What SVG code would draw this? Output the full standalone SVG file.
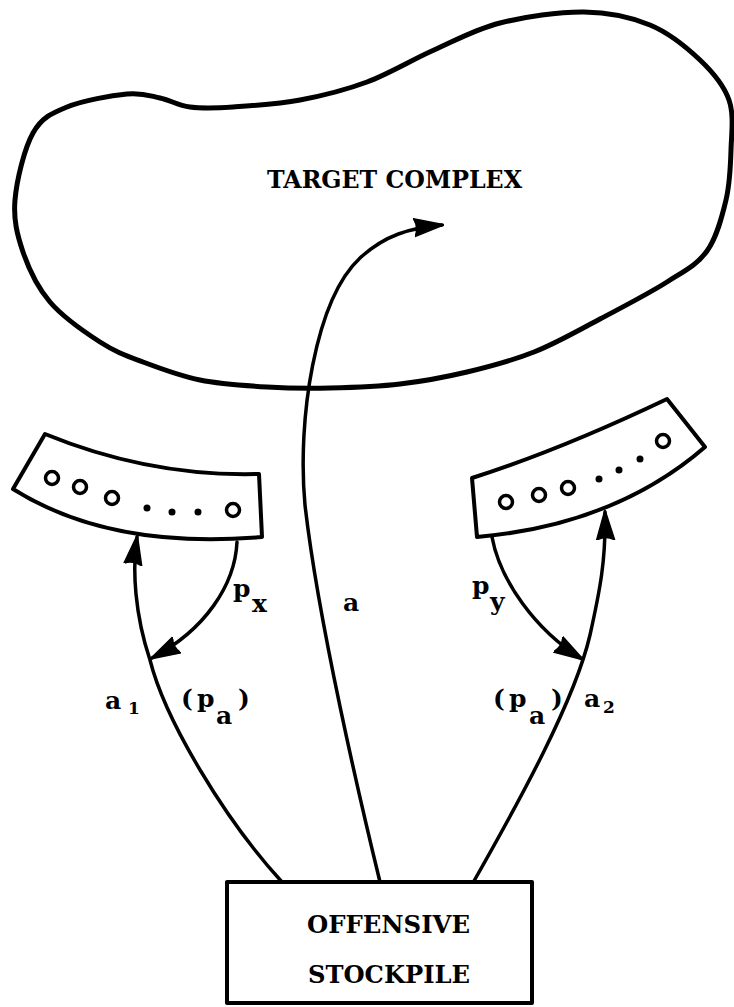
<svg xmlns="http://www.w3.org/2000/svg" width="734" height="1007" viewBox="0 0 734 1007">
<style>
  .outline { fill: none; stroke: #000; stroke-width: 4; stroke-linejoin: round; }
  .blob { fill: none; stroke: #000; stroke-width: 5; }
  .conn { fill: none; stroke: #000; stroke-width: 3.5; stroke-linecap: round; marker-end: url(#ah); }
  .ring { fill: none; stroke: #000; stroke-width: 3.5; }
  .dot { fill: #000; }
  .t { font-family: "DejaVu Serif", "Liberation Serif", serif; font-weight: bold; fill: #000; }
  .cap { font-size: 24px; }
  .lab { font-size: 25px; }
  .num { font-size: 17px; }
</style>
<defs>
  <marker id="ah" markerUnits="userSpaceOnUse" viewBox="0 0 30 22" markerWidth="30" markerHeight="22" refX="28" refY="11" orient="auto">
    <path d="M0,2 L30,11 L0,20 Q5,11 0,2 Z" fill="#000" stroke="#000" stroke-width="1.5" stroke-linejoin="round"/>
  </marker>
</defs>
<rect width="734" height="1007" fill="#fff"/>

<g id="target-complex">
  <path class="blob" d="M15,200 C16.7,180.2 24.3,148.5 33,133 C41.7,117.5 51.3,113.5 67,107 C82.7,100.5 111.5,95.5 127,94 C142.5,92.5 149.5,95.8 160,98 C170.5,100.2 177.8,105.5 190,107 C202.2,108.5 214.7,108.2 233,107 C251.3,105.8 277.7,104.2 300,100 C322.3,95.8 344.7,90.3 367,82 C389.3,73.7 411.8,59.8 434,50 C456.2,40.2 475,29.3 500,23 C525,16.7 559,11.7 584,12 C609,12.3 630.7,17 650,25 C669.3,33 686.8,47.5 700,60 C713.2,72.5 723.8,85 729,100 C734.2,115 731.5,133.3 731,150 C730.5,166.7 730,183.2 726,200 C722,216.8 716.8,237.3 707,251 C697.2,264.7 684.8,270.7 667,282 C649.2,293.3 622.2,307.3 600,319 C577.8,330.7 556.2,343.2 534,352 C511.8,360.8 489.3,366.7 467,372 C444.7,377.3 422.8,381.3 400,384 C377.2,386.7 352.2,387.5 330,388 C307.8,388.5 288.7,388.3 267,387 C245.3,385.7 220.7,384.2 200,380 C179.3,375.8 159.7,368.3 143,362 C126.3,355.7 115.5,352 100,342 C84.5,332 62.8,317 50,302 C37.2,287 28.8,269 23,252 C17.2,235 13.3,219.8 15,200 Z"/>
  <text class="t cap" x="267" y="188" textLength="255" lengthAdjust="spacingAndGlyphs">TARGET COMPLEX</text>
</g>

<g id="left-battery">
  <path class="outline" d="M45,434 Q150,477 259,474 L262,537 Q110,550 13,489 Z"/>
  <circle class="ring" cx="52" cy="478" r="6.5"/>
  <circle class="ring" cx="80" cy="487" r="6.5"/>
  <circle class="ring" cx="112" cy="498" r="6.5"/>
  <circle class="dot" cx="147" cy="508" r="3.5"/>
  <circle class="dot" cx="172" cy="512" r="3.5"/>
  <circle class="dot" cx="198" cy="512" r="3.5"/>
  <circle class="ring" cx="233" cy="510" r="6.5"/>
</g>

<g id="right-battery">
  <path class="outline" d="M472,478 Q560,450 667,399 L705,447 Q615,525 477,537 Z"/>
  <circle class="ring" cx="506" cy="502" r="6.5"/>
  <circle class="ring" cx="539" cy="495" r="6.5"/>
  <circle class="ring" cx="568" cy="488" r="6.5"/>
  <circle class="dot" cx="599" cy="479" r="3.5"/>
  <circle class="dot" cx="619" cy="470" r="3.5"/>
  <circle class="dot" cx="640" cy="459" r="3.5"/>
  <circle class="ring" cx="663" cy="441" r="6.5"/>
</g>

<g id="offensive-stockpile">
  <rect class="outline" x="227" y="882" width="305" height="121"/>
  <text class="t cap" x="307" y="933" textLength="163" lengthAdjust="spacingAndGlyphs">OFFENSIVE</text>
  <text class="t cap" x="308" y="983" textLength="162" lengthAdjust="spacingAndGlyphs">STOCKPILE</text>
</g>

<g id="connectors">
  <path class="conn" d="M380,882 C360,800 318,620 305,505 C297,420 315,300 360,258 C385,235 410,228 442,225"/>
  <path class="conn" d="M282,882 C225,820 165,720 150,660 C135,615 132,570 137,537"/>
  <path class="conn" d="M237,542 C235,585 205,630 152,658"/>
  <path class="conn" d="M474,881 C520,800 575,700 590,635 C600,590 606,560 605,512"/>
  <path class="conn" d="M492,537 C500,580 535,630 582,659"/>
</g>

<g id="labels">
  <text class="t lab"><tspan x="233" y="597">p</tspan><tspan x="252" y="612">x</tspan></text>
  <text class="t lab" x="343" y="611">a</text>
  <text class="t lab"><tspan x="105" y="709">a</tspan><tspan class="num" x="128" y="714">1</tspan></text>
  <text class="t lab"><tspan x="181" y="707">(</tspan><tspan x="197" y="707">p</tspan><tspan x="216" y="724">a</tspan><tspan x="238" y="707">)</tspan></text>
  <text class="t lab"><tspan x="472" y="594">p</tspan><tspan x="490" y="610">y</tspan></text>
  <text class="t lab"><tspan x="493" y="707">(</tspan><tspan x="509" y="707">p</tspan><tspan x="529" y="724">a</tspan><tspan x="551" y="707">)</tspan></text>
  <text class="t lab"><tspan x="584" y="707">a</tspan><tspan class="num" x="603" y="713">2</tspan></text>
</g>
</svg>
